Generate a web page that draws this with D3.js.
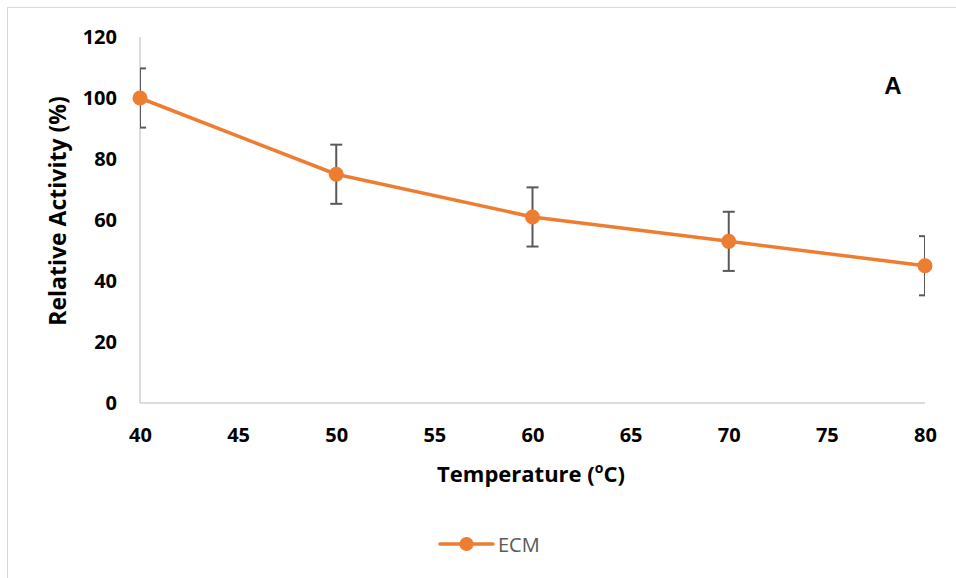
<!DOCTYPE html>
<html>
<head>
<meta charset="utf-8">
<script src="https://cdn.jsdelivr.net/npm/d3@7"></script>
<style>
  html, body { margin: 0; padding: 0; background: #fff; }
  svg { display: block; }
</style>
</head>
<body>
<svg id="chart" width="956" height="578"></svg>
<script>
// Relative activity of ECM across incubation temperatures
const temperatures = [40, 50, 60, 70, 80];
const activity = [100, 75, 61, 53, 45];
const errors = [9.7, 9.7, 9.7, 9.7, 9.7];
const xTicks = [40, 45, 50, 55, 60, 65, 70, 75, 80];
const yTicks = [0, 20, 40, 60, 80, 100, 120];
const seriesName = "ECM";
const panelLabel = "A";

const svg = d3.select("#chart");
const W = 956, H = 578;
const plot = { left: 140, right: 925, top: 37, bottom: 403 };
const orange = "#ED7D31";
const axisGray = "#D0D0D0";
const tickFont = "'Open Sans', 'Noto Sans', sans-serif";

// outer chart frame
svg.append("rect")
  .attr("x", 7.5).attr("y", 7.5)
  .attr("width", W).attr("height", H)
  .attr("fill", "#fff").attr("stroke", "#D9D9D9").attr("stroke-width", 1);

const x = d3.scaleLinear().domain([40, 80]).range([plot.left, plot.right]);
const y = d3.scaleLinear().domain([0, 120]).range([plot.bottom, plot.top]);

// axis lines
svg.append("line")
  .attr("x1", plot.left).attr("x2", plot.left)
  .attr("y1", plot.top).attr("y2", plot.bottom)
  .attr("stroke", axisGray).attr("stroke-width", 1.5);
svg.append("line")
  .attr("x1", plot.left).attr("x2", plot.right)
  .attr("y1", plot.bottom).attr("y2", plot.bottom)
  .attr("stroke", axisGray).attr("stroke-width", 1.5);

// y tick labels
const yAxis = d3.axisLeft(y).tickValues(yTicks).tickSize(0).tickPadding(23);
const gy = svg.append("g").attr("transform", `translate(${plot.left},0)`).call(yAxis);
gy.select(".domain").remove();
gy.selectAll("text")
  .attr("font-family", tickFont).attr("font-weight", 700)
  .attr("font-size", 20).attr("fill", "#000");

// x tick labels
const xAxis = d3.axisBottom(x).tickValues(xTicks).tickSize(0).tickPadding(25);
const gx = svg.append("g").attr("transform", `translate(0,${plot.bottom})`).call(xAxis);
gx.select(".domain").remove();
gx.selectAll("text")
  .attr("font-family", tickFont).attr("font-weight", 700)
  .attr("font-size", 20).attr("fill", "#000");

// axis titles
svg.append("text")
  .attr("transform", "translate(66,211) rotate(-90)")
  .attr("text-anchor", "middle")
  .attr("font-family", tickFont).attr("font-weight", 700)
  .attr("font-size", 23).attr("fill", "#000")
  .text("Relative Activity (%)");

const xt = svg.append("text")
  .attr("x", 531).attr("y", 482)
  .attr("text-anchor", "middle")
  .attr("font-family", tickFont).attr("font-weight", 700)
  .attr("font-size", 22).attr("fill", "#000");
xt.append("tspan").text("Temperature (");
xt.append("tspan").attr("baseline-shift", "super").attr("font-size", 14).text("o");
xt.append("tspan").text("C)");

// panel label
svg.append("text")
  .attr("x", 893).attr("y", 94)
  .attr("text-anchor", "middle")
  .attr("font-family", "'Liberation Sans', Arial, sans-serif").attr("font-weight", 700)
  .attr("font-size", 24).attr("fill", "#000")
  .text(panelLabel);

// clip error bars to the plot area
svg.append("clipPath").attr("id", "plotClip")
  .append("rect")
  .attr("x", plot.left).attr("y", 0)
  .attr("width", plot.right - plot.left).attr("height", H);

const data = temperatures.map((t, i) => ({ t, v: activity[i], e: errors[i] }));

const eg = svg.append("g").attr("clip-path", "url(#plotClip)")
  .attr("stroke", "#595959").attr("stroke-width", 2).attr("fill", "none");
data.forEach(d => {
  const cx = x(d.t);
  eg.append("line").attr("x1", cx).attr("x2", cx)
    .attr("y1", y(d.v + d.e)).attr("y2", y(d.v - d.e));
  eg.append("line").attr("x1", cx - 6).attr("x2", cx + 6)
    .attr("y1", y(d.v + d.e)).attr("y2", y(d.v + d.e));
  eg.append("line").attr("x1", cx - 6).attr("x2", cx + 6)
    .attr("y1", y(d.v - d.e)).attr("y2", y(d.v - d.e));
});

// series line and markers
const line = d3.line().x(d => x(d.t)).y(d => y(d.v));
svg.append("path").datum(data)
  .attr("d", line).attr("fill", "none")
  .attr("stroke", orange).attr("stroke-width", 3.5)
  .attr("stroke-linejoin", "round");
svg.selectAll("circle.pt").data(data).enter().append("circle")
  .attr("class", "pt")
  .attr("cx", d => x(d.t)).attr("cy", d => y(d.v))
  .attr("r", 7.5).attr("fill", orange);

// legend
const lg = svg.append("g").attr("transform", "translate(440,544)");
lg.append("line").attr("x1", 0).attr("x2", 53).attr("y1", 0).attr("y2", 0)
  .attr("stroke", orange).attr("stroke-width", 3.5).attr("stroke-linecap", "round");
lg.append("circle").attr("cx", 26.5).attr("cy", 0).attr("r", 7).attr("fill", orange);
lg.append("text").attr("x", 58).attr("y", 7.5)
  .attr("font-family", tickFont).attr("font-size", 20).attr("fill", "#595959")
  .text(seriesName);
</script>
</body>
</html>
